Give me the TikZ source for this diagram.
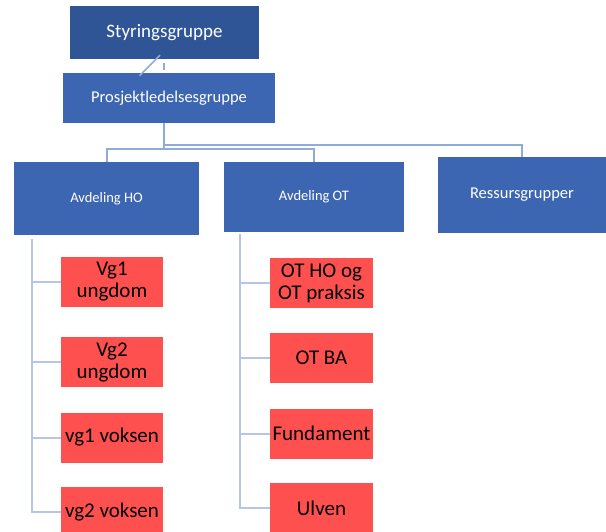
\documentclass[tikz,border=0pt]{standalone}
\usepackage{fontspec}
\setmainfont{Carlito}
\definecolor{topblue}{HTML}{2F5597}
\definecolor{midblue}{HTML}{3C66B1}
\definecolor{redbox}{HTML}{FF5050}
\definecolor{conn}{HTML}{8FAADC}
\definecolor{tree}{HTML}{B4C5E7}
\begin{document}
\begin{tikzpicture}[x=1pt,y=-1pt,
  bluebox/.style={rectangle,fill=midblue,draw=none,text=white,align=center,inner sep=0pt},
  redb/.style={rectangle,fill=redbox,draw=none,text=black,align=center,inner sep=0pt,
     minimum width=102pt,minimum height=50pt,font=\fontsize{21}{22}\selectfont},
  link/.style={draw=conn,line width=2pt},
  treeline/.style={draw=tree,line width=2pt}]
\useasboundingbox (0,0) rectangle (606,532);
% top boxes
\node[bluebox,fill=topblue,minimum width=189pt,minimum height=53pt,font=\fontsize{19}{21}\selectfont] (sty) at (164.5,32.5) {Styringsgruppe};
\node[bluebox,minimum width=212pt,minimum height=50pt,font=\fontsize{16.5}{18}\selectfont] (pro) at (169,98) {Prosjektledelsesgruppe};
% level 2
\node[bluebox,minimum width=185pt,minimum height=73pt,font=\fontsize{14.5}{16}\selectfont] (ho) at (106.5,198.5) {Avdeling HO};
\node[bluebox,minimum width=180pt,minimum height=70pt,font=\fontsize{14.5}{16}\selectfont] (ot) at (314,197) {Avdeling OT};
\node[bluebox,minimum width=168pt,minimum height=76pt,font=\fontsize{16.5}{18}\selectfont] (res) at (522,195) {Ressursgrupper};
% red boxes HO
\node[redb] (h1) at (112,282) {Vg1\\ungdom};
\node[redb] (h2) at (112,362) {Vg2\\ungdom};
\node[redb] (h3) at (112,437.5) {vg1 voksen};
\node[redb] (h4) at (112,512) {vg2 voksen};
% red boxes OT
\node[redb,minimum width=103pt] (o1) at (321.5,283) {OT HO og\\OT praksis};
\node[redb,minimum width=103pt] (o2) at (321.5,358) {OT BA};
\node[redb,minimum width=103pt] (o3) at (321.5,433.5) {Fundament};
\node[redb,minimum width=103pt] (o4) at (321.5,508) {Ulven};
% stub between top boxes
\coordinate (s1) at ([xshift=-29.5pt,yshift=-3pt]pro.north);
\coordinate (s2) at ([xshift=-4.5pt,yshift=4pt]sty.south);
\draw[link,line width=1.5pt] (s1) -- (s2);
\draw[link,line width=1.5pt] ([yshift=-4pt]sty.south -| 164,0) -- ([yshift=3pt]pro.north -| 164,0);
% connectors from Prosjektledelsesgruppe
\coordinate (j1) at (164,145);
\coordinate (j2) at (164,149);
\draw[link] (pro.south -| j1) -- (j2);
\draw[link] (j1) -| (res.north);
\draw[link] (ho.north -| 107,0) |- (j2) -| (ot.north);
% trees
\coordinate (ht) at (32,239);
\coordinate (ot0) at (240,234);
\draw[treeline] (ht) |- (h4.west);
\draw[treeline] (ht |- h1.west) -- (h1.west);
\draw[treeline] (ht |- h2.west) -- (h2.west);
\draw[treeline] (ht |- h3.west) -- (h3.west);
\draw[treeline] (ot0) |- (o4.west);
\draw[treeline] (ot0 |- o1.west) -- (o1.west);
\draw[treeline] (ot0 |- o2.west) -- (o2.west);
\draw[treeline] (ot0 |- o3.west) -- (o3.west);
\end{tikzpicture}
\end{document}
